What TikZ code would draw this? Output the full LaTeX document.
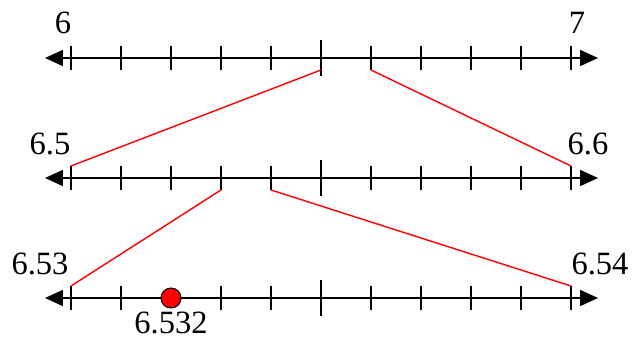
\documentclass[tikz,border=0pt]{standalone}
\usepackage{fontspec}
\setmainfont{Liberation Serif}
\usetikzlibrary{arrows.meta,calc}
\tikzset{
  axis/.style={line width=1.1pt, {Triangle[length=0.36cm,width=0.32cm]}-{Triangle[length=0.36cm,width=0.32cm]}},
  tick/.style={line width=0.9pt},
  zoomline/.style={red, line width=0.8pt},
  numlabel/.style={inner sep=0pt, font=\fontsize{18.5}{21}\selectfont},
}
\begin{document}
\begin{tikzpicture}
  \useasboundingbox (0,0) rectangle (12.66,6.78);
  % three number lines
  \foreach \row/\y/\ticks in {a/5.62/{0,...,10}, b/3.22/{0,...,10}, c/0.82/{0,1,3,4,...,10}} {
    \coordinate (\row L) at (0.9,\y);
    \coordinate (\row R) at (11.96,\y);
    \draw [axis] (\row L) -- (\row R);
    \foreach \i in {0,...,10} {
      \coordinate (\row\i) at (1.42+\i,\y);
      \coordinate (\row\i hi) at (1.42+\i,\y+0.24);
      \coordinate (\row\i lo) at (1.42+\i,\y-0.24);
    }
    \foreach \i in \ticks
      \draw [tick] (\row\i hi) -- (\row\i lo);
    \draw [tick] ($(\row5)+(0,0.36)$) -- ($(\row5)+(0,-0.36)$);
  }
  % labels
  \node [numlabel] (l6) at (1.26,6.33) {6};
  \node [numlabel] (l7) at (11.54,6.33) {7};
  \node [numlabel] (l65) at (1.0,3.9) {6.5};
  \node [numlabel] (l66) at (11.76,3.9) {6.6};
  \node [numlabel] (l653) at (0.8,1.5) {6.53};
  \node [numlabel] (l654) at (12.0,1.5) {6.54};
  % zoom lines
  \draw [zoomline] (a5lo) -- (b0hi);
  \draw [zoomline] (a6lo) -- (b10hi);
  \draw [zoomline] (b3lo) -- (c0hi);
  \draw [zoomline] (b4lo) -- (c10hi);
  % the point
  \node [circle, fill=red, draw=black, line width=0.6pt, minimum size=0.4cm, inner sep=0pt] (pt) at (c2) {};
  \node [numlabel] (l6532) at (3.42,0.32) {6.532};
\end{tikzpicture}
\end{document}
